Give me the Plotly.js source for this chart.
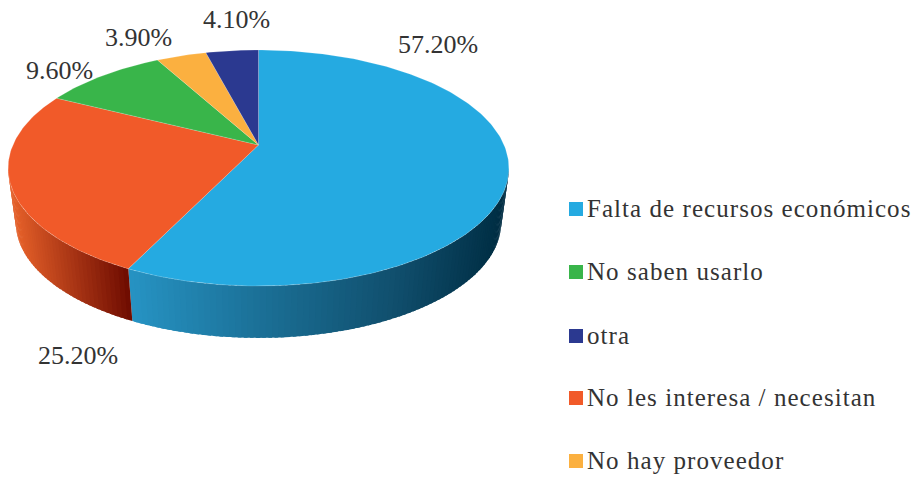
<!DOCTYPE html>
<html><head><meta charset="utf-8">
<script src="https://cdn.plot.ly/plotly-3.0.1.min.js"></script>
<style>
html,body{margin:0;padding:0;background:#fff}
#chart{width:921px;height:479px}
#chart .textpoint text{letter-spacing:1.05px}
</style></head><body><div id="chart"></div>
<script>
// Data
const categories = ["Falta de recursos económicos","No les interesa / necesitan","No saben usarlo","No hay proveedor","otra"];
const shares = [57.2,25.2,9.6,3.9,4.1];
const sliceColors = ["#25aae1","#f15a29","#39b54a","#fbb040","#2b3990"];
const legendOrder = [0,2,4,1,3];

// Pie projection (perspective view of a disc)
const top3d = {cx:258.5, cy:145, A:113.5, B:245.6};
const base3d = {cx:258.5, cy:200, A:111, B:238};
const K = 0.195;
const proj = (g,deg)=>{const t=deg*Math.PI/180,u=Math.sin(t),v=Math.cos(t),w=1+K*v;
  return [g.cx+g.B*u/w, g.cy-g.A*v/w];};
const FRONT = [Math.acos(-K)*180/Math.PI, 360-Math.acos(-K)*180/Math.PI];
const wallRamps = {
  0:[[133,[38,146,194]],[260,[27,112,151]],[400,[16,78,108]],[502,[0,46,68]]],
  1:[[15,[226,94,40]],[130,[108,10,0]]]
};
const rampColor=(stops,x)=>{
  if(x<=stops[0][0])return stops[0][1];
  for(let i=1;i<stops.length;i++){ if(x<=stops[i][0]){
    const f=(x-stops[i-1][0])/(stops[i][0]-stops[i-1][0]);
    return stops[i][1].map((c,j)=>Math.round(stops[i-1][1][j]+f*(c-stops[i-1][1][j])));}}
  return stops[stops.length-1][1];
};

const traces=[];
let start=0;
const spans=shares.map(s=>{const a=start;start+=s*3.6;return [a,start];});

// side wall, drawn as thin strips so it can carry a left-to-right shade
spans.forEach(([a,b],i)=>{
  const lo=Math.max(a,FRONT[0]),hi=Math.min(b,FRONT[1]);
  if(hi<=lo||!wallRamps[i])return;
  const n=Math.ceil((hi-lo)/1.2),step=(hi-lo)/n;
  for(let k=0;k<n;k++){
    const d0=lo+k*step,d1=Math.min(hi,d0+step*1.6);
    const p=[proj(top3d,d0),proj(top3d,d1),proj(base3d,d1),proj(base3d,d0)];
    const mid=proj(top3d,d0+step/2)[0];
    const c=rampColor(wallRamps[i],mid);
    traces.push({type:"scatter",mode:"lines",x:[...p.map(q=>q[0]),p[0][0]],y:[...p.map(q=>q[1]),p[0][1]],
      fill:"toself",fillcolor:`rgb(${c})`,line:{width:0},hoverinfo:"skip",showlegend:false});
  }
});

// top face
spans.forEach(([a,b],i)=>{
  const n=Math.ceil((b-a)/1),xs=[top3d.cx],ys=[top3d.cy];
  for(let k=0;k<=n;k++){const q=proj(top3d,a+(b-a)*k/n);xs.push(q[0]);ys.push(q[1]);}
  xs.push(top3d.cx);ys.push(top3d.cy);
  traces.push({type:"scatter",mode:"lines",x:xs,y:ys,fill:"toself",fillcolor:sliceColors[i],
    line:{color:"rgba(255,255,255,0.35)",width:0.5},name:categories[i],
    text:shares[i].toFixed(2)+"%",hoverinfo:"name+text",hoveron:"fills",showlegend:false});
});

// legend column
const legendX=576, legendTextX=587, legendTextDy=1.5, legendYs=[209,272,336,398,461];
legendOrder.forEach((idx,r)=>{
  traces.push({type:"scatter",mode:"markers",x:[legendX],y:[legendYs[r]],
    marker:{symbol:"square",size:14,color:sliceColors[idx]},hoverinfo:"skip",showlegend:false});
  traces.push({type:"scatter",mode:"text",x:[legendTextX],y:[legendYs[r]+legendTextDy],
    text:[categories[idx]],textposition:"middle right",
    textfont:{family:"Liberation Serif",size:25,color:"#333333"},
    hoverinfo:"skip",showlegend:false});
});

// percentage labels
const labelAnchors=[[437.5,44],[77.5,355.5],[59.5,70],[138,37],[236,19]];
const annotations=shares.map((s,i)=>({xref:"x",yref:"y",x:labelAnchors[i][0],y:labelAnchors[i][1],
  text:s.toFixed(2)+"%",showarrow:false,font:{family:"Liberation Serif",size:26,color:"#333333"}}));

Plotly.newPlot("chart",traces,{
  width:921,height:479,margin:{l:0,r:0,t:0,b:0},paper_bgcolor:"#fff",plot_bgcolor:"#fff",
  showlegend:false,hovermode:"closest",annotations,
  xaxis:{range:[0,921],visible:false,fixedrange:true},
  yaxis:{range:[479,0],visible:false,fixedrange:true}
},{displayModeBar:false,responsive:false});
</script></body></html>
